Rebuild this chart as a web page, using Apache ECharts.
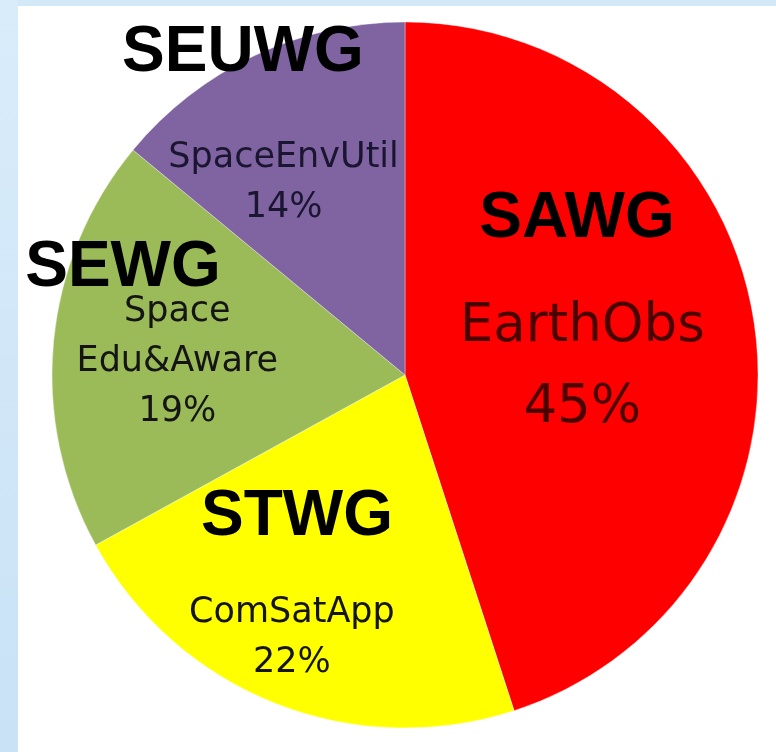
<!DOCTYPE html>
<html>
<head>
<meta charset="utf-8">
<script src="https://cdn.jsdelivr.net/npm/echarts@6/dist/echarts.min.js"></script>
<style>
html,body{margin:0;padding:0;background:#d4e9f8;}
#chart{width:776px;height:752px;}
</style>
</head>
<body>
<div id="chart"></div>
<script>
// Data
const categories = ['EarthObs', 'ComSatApp', 'Space\nEdu&Aware', 'SpaceEnvUtil'];
const shares = [45, 22, 19, 14];
const groups = ['SAWG', 'STWG', 'SEWG', 'SEUWG'];

const colors = ['#ff0000', '#ffff00', '#9bbb59', '#8064a2'];
const textColors = ['#4a0000', '#151515', '#151515', '#1a1530'];
// label nudges relative to ECharts' inside position (style, not data)
const labelNudge = [[0, 21], [-47, 96], [-49, 4], [-45, -30]];
// annotation placements
const groupPos = [[577, 219], [297, 517], [123, 268], [243, 53]];

const chart = echarts.init(document.getElementById('chart'), null, {renderer: 'canvas'});

const pieData = categories.map((c, i) => ({
  name: c,
  value: shares[i],
  itemStyle: {color: colors[i]},
  label: {
    color: textColors[i],
    fontSize: i === 0 ? 53 : 35,
    lineHeight: i === 0 ? 81 : 50
  }
}));

const option = {
  backgroundColor: '#d4e9f8',
  animation: false,
  graphic: [
    {
      type: 'rect', z: -10, silent: true,
      shape: {x: 0, y: 0, width: 18, height: 752},
      style: {fill: new echarts.graphic.LinearGradient(0, 0, 0, 1, [
        {offset: 0, color: '#d9ecfa'}, {offset: 1, color: '#c9e2f6'}])}
    },
    {
      type: 'rect', z: -5, silent: true,
      shape: {x: 18, y: 6, width: 760, height: 748},
      style: {fill: '#ffffff'}
    }
  ].concat(groups.map((g, i) => ({
    type: 'text', z: 100, silent: true,
    x: groupPos[i][0], y: groupPos[i][1],
    style: {
      text: g,
      fill: '#000000',
      font: 'bold 64px "Liberation Sans", Arial, sans-serif',
      textAlign: 'center',
      textVerticalAlign: 'middle'
    }
  }))),
  series: [{
    type: 'pie',
    center: [405, 375],
    radius: [0, 353],
    startAngle: 90,
    clockwise: true,
    data: pieData,
    itemStyle: {borderColor: 'rgba(255,255,255,0.35)', borderWidth: 1},
    label: {
      show: true,
      position: 'inside',
      fontFamily: '"DejaVu Sans", sans-serif',
      formatter: p => p.name + '\n' + p.value + '%',
      align: 'center'
    },
    labelLine: {show: false},
    labelLayout: p => ({dx: labelNudge[p.dataIndex][0], dy: labelNudge[p.dataIndex][1]}),
    emphasis: {disabled: true}
  }]
};
chart.setOption(option);
</script>
</body>
</html>
